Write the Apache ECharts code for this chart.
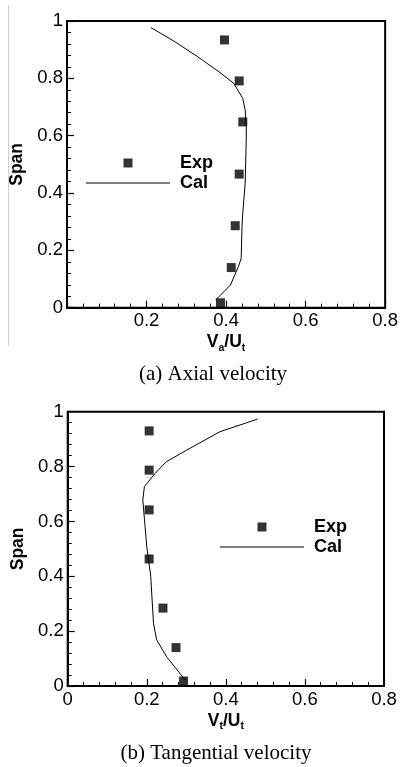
<!DOCTYPE html>
<html>
<head>
<meta charset="utf-8">
<script src="https://cdn.jsdelivr.net/npm/echarts@6/dist/echarts.min.js"></script>
<style>
html,body{margin:0;padding:0;background:#fff;}
#c{width:401px;height:767px;}
</style>
</head>
<body>
<div id="c"></div>
<script>
// ---- Data ----
// (a) Axial velocity
const expA_x = [0.396, 0.433, 0.442, 0.433, 0.423, 0.413, 0.386];
const expA_y = [0.934, 0.791, 0.648, 0.466, 0.286, 0.140, 0.017];
const calA_x = [0.211, 0.271, 0.329, 0.382, 0.419, 0.442, 0.448, 0.451, 0.450, 0.448, 0.442, 0.440, 0.438, 0.431, 0.411, 0.386, 0.374];
const calA_y = [0.977, 0.928, 0.875, 0.823, 0.783, 0.730, 0.690, 0.620, 0.540, 0.434, 0.330, 0.283, 0.172, 0.143, 0.079, 0.044, 0.027];
// (b) Tangential velocity
const expB_x = [0.206, 0.206, 0.206, 0.206, 0.241, 0.274, 0.293];
const expB_y = [0.930, 0.787, 0.642, 0.463, 0.284, 0.140, 0.018];
const calB_x = [0.480, 0.385, 0.301, 0.250, 0.221, 0.194, 0.190, 0.200, 0.210, 0.217, 0.225, 0.250, 0.297];
const calB_y = [0.973, 0.927, 0.860, 0.818, 0.775, 0.727, 0.678, 0.508, 0.400, 0.228, 0.168, 0.107, 0.022];

const seriesNames = ['Exp', 'Cal'];
const xTitleA = ['V', 'a', '/U', 't'];
const xTitleB = ['V', 't', '/U', 't'];
const yTitle = 'Span';
const captionA = '(a) Axial velocity';
const captionB = '(b) Tangential velocity';

const zip = (xs, ys) => xs.map((x, i) => [x, ys[i]]);

const SANS = '"Liberation Sans", Arial, sans-serif';
const SERIF = '"Liberation Serif", "Times New Roman", serif';

function xAxisCfg(gridIndex, hideZero, title, gap) {
  return {
    type: 'value', gridIndex, min: 0, max: 0.8, interval: 0.2,
    axisLine: { show: true, onZero: false, lineStyle: { color: '#000', width: 2 } },
    axisTick: { show: true, inside: true, length: 7, lineStyle: { color: '#000', width: 1.2 } },
    minorTick: { show: true, splitNumber: 5, length: 4, lineStyle: { color: '#000', width: 1 } },
    splitLine: { show: false },
    axisLabel: {
      color: '#000', fontFamily: SANS, fontSize: 18.5, margin: 4,
      formatter: v => (hideZero && v === 0) ? '' : String(+v.toFixed(2))
    },
    name: `{b|${title[0]}}{s|${title[1]}}{b|${title[2]}}{s|${title[3]}}`,
    nameLocation: 'middle', nameGap: gap,
    nameTextStyle: {
      rich: {
        b: { fontFamily: SANS, fontSize: 17.5, fontWeight: 'bold', color: '#000', lineHeight: 18 },
        s: { fontFamily: SANS, fontSize: 10.5, fontWeight: 'bold', color: '#000', padding: [11, 0, 0, 0], lineHeight: 10 }
      }
    }
  };
}
function yAxisCfg(gridIndex, gap) {
  return {
    type: 'value', gridIndex, min: 0, max: 1, interval: 0.2,
    axisLine: { show: true, onZero: false, lineStyle: { color: '#000', width: 2 } },
    axisTick: { show: true, inside: true, length: 7, lineStyle: { color: '#000', width: 1.2 } },
    minorTick: { show: true, splitNumber: 5, length: 4, lineStyle: { color: '#000', width: 1 } },
    splitLine: { show: false },
    axisLabel: { color: '#000', fontFamily: SANS, fontSize: 18.5, margin: 4,
      formatter: v => String(+v.toFixed(2)) },
    name: yTitle, nameLocation: 'middle', nameGap: gap, nameRotate: 90,
    nameTextStyle: { fontFamily: SANS, fontSize: 17.5, fontWeight: 'bold', color: '#000' }
  };
}

// legend icons laid out in an 84x9 box: centred square for Exp, thin line for Cal
const ICON_EXP = 'path://M0,0L0.01,0ZM84,9L84.01,9ZM37.5,0L46.5,0L46.5,9L37.5,9Z';
const ICON_CAL = 'path://M0,0L0.01,0ZM84,9L84.01,9ZM0,4L84,4L84,5L0,5Z';

function legendCfg(left, top) {
  return {
    data: [
      { name: seriesNames[0], icon: ICON_EXP, itemStyle: { color: '#000', borderWidth: 0 } },
      { name: seriesNames[1], icon: ICON_CAL, itemStyle: { color: '#000', borderWidth: 0 } }
    ],
    orient: 'vertical', left, top,
    itemWidth: 84, itemHeight: 9, itemGap: 2, selectedMode: false,
    textStyle: { fontFamily: SANS, fontSize: 18, fontWeight: 'bold', color: '#000', lineHeight: 18, padding: [0, 0, 0, 5] }
  };
}

const chart = echarts.init(document.getElementById('c'), null, { renderer: 'canvas' });
chart.setOption({
  animation: false,
  backgroundColor: '#fff',
  grid: [
    { left: 63.3, top: 21, width: 325.4, height: 286.7, show: true, borderColor: '#000', borderWidth: 2, containLabel: false },
    { left: 67.7, top: 411.7, width: 316.3, height: 274.3, show: true, borderColor: '#000', borderWidth: 2, containLabel: false }
  ],
  xAxis: [xAxisCfg(0, true, xTitleA, 19), xAxisCfg(1, false, xTitleB, 20)],
  yAxis: [yAxisCfg(0, 41), yAxisCfg(1, 40)],
  legend: [legendCfg(81, 149), legendCfg(215, 513)],
  series: [
    { name: seriesNames[0], type: 'scatter', xAxisIndex: 0, yAxisIndex: 0, symbol: 'rect', symbolSize: 9,
      itemStyle: { color: '#000' }, data: zip(expA_x, expA_y) },
    { name: seriesNames[1], type: 'line', xAxisIndex: 0, yAxisIndex: 0, symbol: 'none', showSymbol: false,
      lineStyle: { color: '#000', width: 1 }, itemStyle: { color: '#000' }, data: zip(calA_x, calA_y) },
    { name: seriesNames[0], type: 'scatter', xAxisIndex: 1, yAxisIndex: 1, symbol: 'rect', symbolSize: 9,
      itemStyle: { color: '#000' }, data: zip(expB_x, expB_y) },
    { name: seriesNames[1], type: 'line', xAxisIndex: 1, yAxisIndex: 1, symbol: 'none', showSymbol: false,
      lineStyle: { color: '#000', width: 1 }, itemStyle: { color: '#000' }, data: zip(calB_x, calB_y) }
  ],
  graphic: [
    { type: 'line', shape: { x1: 8.5, y1: 5, x2: 8.5, y2: 346 }, style: { stroke: '#cfcfcf', lineWidth: 1 } },
    { type: 'text', x: 213, y: 374, style: { text: captionA, font: '21px ' + SERIF, fill: '#000', textAlign: 'center', textVerticalAlign: 'middle' } },
    { type: 'text', x: 216, y: 753, style: { text: captionB, font: '21px ' + SERIF, fill: '#000', textAlign: 'center', textVerticalAlign: 'middle' } }
  ]
});
</script>
</body>
</html>
